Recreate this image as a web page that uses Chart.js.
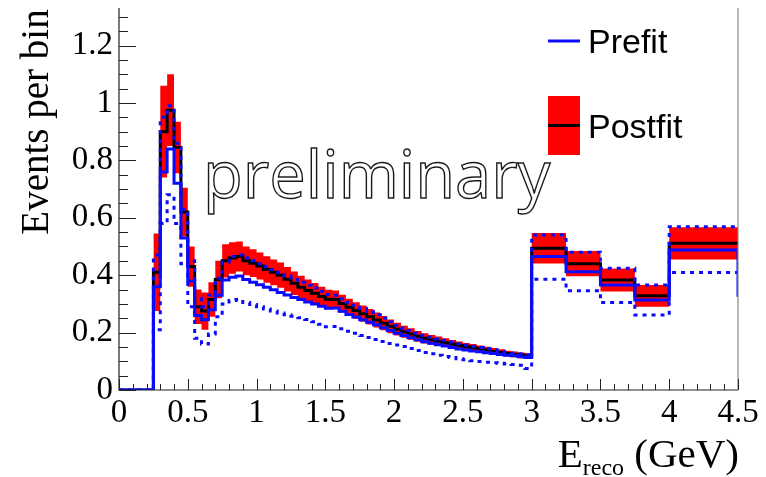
<!DOCTYPE html>
<html>
<head>
<meta charset="utf-8">
<script src="https://cdn.jsdelivr.net/npm/chart.js@4.4.1/dist/chart.umd.min.js"></script>
<style>
  html, body { margin: 0; padding: 0; background: #fff; }
  #wrap { position: relative; width: 766px; height: 477px; }
</style>
</head>
<body>
<div id="wrap"><canvas id="c" width="766" height="477"></canvas></div>
<script>
// Bin edges of the reconstructed-energy histogram (GeV)
const binEdges = [0, 0.25, 0.30, 0.35, 0.40, 0.45, 0.50, 0.55, 0.60, 0.65, 0.70,
  0.75, 0.80, 0.85, 0.90, 0.95, 1.00, 1.05, 1.10, 1.15, 1.20,
  1.25, 1.30, 1.35, 1.40, 1.45, 1.50, 1.55, 1.60, 1.65, 1.70,
  1.75, 1.80, 1.85, 1.90, 1.95, 2.00, 2.05, 2.10, 2.15, 2.20,
  2.25, 2.30, 2.35, 2.40, 2.45, 2.50, 2.55, 2.60, 2.65, 2.70,
  2.75, 2.80, 2.85, 2.90, 2.95, 3.00, 3.25, 3.50, 3.75, 4.00, 4.50];

// Prefit prediction and its +/- 1 sigma envelope (events per bin)
const prefit = [0, 0.36, 0.76, 0.84, 0.72, 0.53, 0.38, 0.26, 0.245, 0.28, 0.33,
  0.383, 0.393, 0.397, 0.385, 0.375, 0.367, 0.358, 0.349, 0.34, 0.331,
  0.322, 0.315, 0.307, 0.30, 0.292, 0.285, 0.286, 0.274, 0.263, 0.254,
  0.245, 0.236, 0.227, 0.217, 0.207, 0.198, 0.19, 0.182, 0.175, 0.168,
  0.163, 0.158, 0.153, 0.148, 0.143, 0.139, 0.136, 0.133, 0.13, 0.127,
  0.124, 0.121, 0.119, 0.116, 0.113, 0.465, 0.412, 0.366, 0.314, 0.488];
const prefitUp = [0, 0.47, 0.95, 0.99, 0.86, 0.63, 0.45, 0.32, 0.29, 0.33, 0.39,
  0.445, 0.465, 0.47, 0.46, 0.45, 0.44, 0.43, 0.42, 0.41, 0.397,
  0.385, 0.375, 0.365, 0.355, 0.344, 0.333, 0.33, 0.318, 0.306, 0.295,
  0.284, 0.273, 0.262, 0.25, 0.238, 0.226, 0.216, 0.207, 0.199, 0.191,
  0.185, 0.179, 0.173, 0.167, 0.161, 0.156, 0.152, 0.148, 0.144, 0.14,
  0.136, 0.132, 0.129, 0.126, 0.123, 0.54, 0.48, 0.424, 0.366, 0.569];
const prefitDown = [0, 0.21, 0.58, 0.68, 0.58, 0.44, 0.29, 0.18, 0.16, 0.195, 0.255,
  0.30, 0.312, 0.315, 0.305, 0.298, 0.29, 0.282, 0.275, 0.268, 0.262,
  0.257, 0.252, 0.246, 0.238, 0.229, 0.22, 0.221, 0.213, 0.205, 0.198,
  0.19, 0.183, 0.176, 0.169, 0.162, 0.157, 0.152, 0.145, 0.138, 0.131,
  0.126, 0.121, 0.117, 0.113, 0.109, 0.105, 0.102, 0.099, 0.097, 0.095,
  0.093, 0.091, 0.089, 0.086, 0.075, 0.386, 0.346, 0.305, 0.261, 0.409];
const prefitOverflow = 0.325;

// Postfit prediction and its uncertainty
const postfit = [0, 0.41, 0.90, 0.975, 0.845, 0.62, 0.43, 0.29, 0.275, 0.315, 0.385,
  0.45, 0.46, 0.465, 0.45, 0.442, 0.432, 0.42, 0.41, 0.40, 0.386,
  0.372, 0.358, 0.347, 0.337, 0.326, 0.316, 0.315, 0.301, 0.288, 0.277,
  0.266, 0.255, 0.244, 0.233, 0.222, 0.212, 0.203, 0.195, 0.187, 0.18,
  0.175, 0.17, 0.165, 0.16, 0.155, 0.151, 0.147, 0.143, 0.139, 0.135,
  0.131, 0.127, 0.124, 0.121, 0.118, 0.494, 0.44, 0.383, 0.328, 0.511];
const postfitErr = [0, 0.135, 0.16, 0.125, 0.09, 0.085, 0.07, 0.06, 0.065, 0.06, 0.065,
  0.058, 0.055, 0.052, 0.05, 0.048, 0.047, 0.046, 0.045, 0.044, 0.043,
  0.041, 0.04, 0.038, 0.036, 0.034, 0.033, 0.032, 0.031, 0.03, 0.029,
  0.028, 0.027, 0.026, 0.025, 0.024, 0.022, 0.021, 0.02, 0.019, 0.018,
  0.017, 0.016, 0.015, 0.014, 0.014, 0.013, 0.013, 0.012, 0.012, 0.011,
  0.011, 0.01, 0.01, 0.01, 0.01, 0.053, 0.044, 0.04, 0.038, 0.056];

// Axis ticks
const xTickValues = [0, 0.5, 1, 1.5, 2, 2.5, 3, 3.5, 4, 4.5];
const xTickLabels = ['0', '0.5', '1', '1.5', '2', '2.5', '3', '3.5', '4', '4.5'];
const yTickValues = [0, 0.2, 0.4, 0.6, 0.8, 1.0, 1.2];
const yTickLabels = ['0', '0.2', '0.4', '0.6', '0.8', '1', '1.2'];

const BLUE = '#0a0aff';
const RED = '#ff0000';
const SERIF = '"Liberation Serif", "Times New Roman", serif';
const SANS = '"Liberation Sans", Arial, sans-serif';

// Turn per-bin contents into a histogram outline
function histOutline(values, first) {
  const pts = [];
  for (let i = first; i < values.length; i++) {
    pts.push({ x: binEdges[i], y: values[i] });
    pts.push({ x: binEdges[i + 1], y: values[i] });
  }
  return pts;
}

const bandHigh = postfit.map((v, i) => v + postfitErr[i]);
const bandLow = postfit.map((v, i) => v - postfitErr[i]);
const prefitLine = histOutline(prefit, 0);
prefitLine.push({ x: binEdges[binEdges.length - 1], y: prefitOverflow });

const lineBase = { pointRadius: 0, tension: 0, borderJoinStyle: 'miter', borderCapStyle: 'butt', fill: false };

// Frame, inward tick marks, titles, legend and watermark
const decorations = {
  id: 'decorations',
  afterDraw(chart) {
    const ctx = chart.ctx;
    const xs = chart.scales.x, ys = chart.scales.y;
    const a = chart.chartArea;
    ctx.save();
    // frame
    ctx.strokeStyle = '#222';
    ctx.lineWidth = 1.2;
    ctx.beginPath();
    ctx.moveTo(a.left, a.top); ctx.lineTo(a.left, a.bottom); ctx.lineTo(a.right, a.bottom);
    ctx.stroke();
    ctx.strokeStyle = '#888';
    ctx.beginPath();
    ctx.moveTo(a.right, a.top); ctx.lineTo(a.right, a.bottom);
    ctx.stroke();
    // y ticks: major every 0.2, minor every 0.05
    ctx.strokeStyle = '#222';
    ctx.lineWidth = 1;
    ctx.beginPath();
    for (let k = 0; k <= 26; k++) {
      const v = k * 0.05;
      if (v > ys.max) break;
      const py = Math.round(ys.getPixelForValue(v)) + 0.5;
      const len = (k % 4 === 0) ? 17 : 9;
      ctx.moveTo(a.left, py); ctx.lineTo(a.left + len, py);
    }
    // x ticks: major every 0.5, minor every 0.1
    for (let k = 0; k <= 45; k++) {
      const px = Math.round(xs.getPixelForValue(k * 0.1)) + 0.5;
      const len = (k % 5 === 0) ? 11 : 6;
      ctx.moveTo(px, a.bottom); ctx.lineTo(px, a.bottom - len);
    }
    ctx.stroke();

    // y-axis title
    ctx.fillStyle = '#000';
    ctx.save();
    ctx.translate(48, 122);
    ctx.rotate(-Math.PI / 2);
    ctx.font = '39px ' + SERIF;
    ctx.textAlign = 'center';
    ctx.textBaseline = 'alphabetic';
    ctx.fillText('Events per bin', 0, 0);
    ctx.restore();

    // x-axis title with subscript, right aligned
    ctx.textAlign = 'left';
    ctx.textBaseline = 'alphabetic';
    const big = '41px ' + SERIF, small = '24px ' + SERIF;
    ctx.font = big;
    const wE = ctx.measureText('E').width;
    const wG = ctx.measureText(' (GeV)').width;
    ctx.font = small;
    const wR = ctx.measureText('reco').width;
    let x0 = 739 - (wE + wR + wG);
    ctx.font = big; ctx.fillText('E', x0, 467);
    ctx.font = small; ctx.fillText('reco', x0 + wE, 475);
    ctx.font = big; ctx.fillText(' (GeV)', x0 + wE + wR, 467);

    // legend
    ctx.strokeStyle = BLUE;
    ctx.lineWidth = 3;
    ctx.beginPath(); ctx.moveTo(548, 41); ctx.lineTo(580, 41); ctx.stroke();
    ctx.fillStyle = RED;
    ctx.fillRect(548, 96, 32, 59);
    ctx.strokeStyle = '#000';
    ctx.beginPath(); ctx.moveTo(548, 125.5); ctx.lineTo(580, 125.5); ctx.stroke();
    ctx.fillStyle = '#000';
    ctx.font = '34px ' + SANS;
    ctx.fillText('Prefit', 588, 53);
    ctx.fillText('Postfit', 588, 138);

    // watermark
    ctx.font = '65px "Open Sans", Lato, sans-serif';
    ctx.lineWidth = 1.4;
    ctx.strokeStyle = '#1a1a1a';
    ctx.strokeText('preliminary', 203, 198);
    ctx.restore();
  }
};

new Chart(document.getElementById('c'), {
  type: 'line',
  data: {
    datasets: [
      Object.assign({ label: 'Prefit +1σ', data: histOutline(prefitUp, 0), borderColor: BLUE, borderWidth: 3, borderDash: [4, 5] }, lineBase),
      Object.assign({ label: 'Prefit -1σ', data: histOutline(prefitDown, 0), borderColor: BLUE, borderWidth: 3, borderDash: [4, 5] }, lineBase),
      Object.assign({ label: 'Prefit', data: prefitLine, borderColor: BLUE, borderWidth: 3 }, lineBase),
      Object.assign({ label: 'Postfit', data: histOutline(postfit, 0), borderColor: '#000', borderWidth: 3 }, lineBase),
      Object.assign({}, lineBase, { label: 'Postfit high', data: histOutline(bandHigh, 1), borderWidth: 0, borderColor: RED, backgroundColor: RED, fill: '+1' }),
      Object.assign({}, lineBase, { label: 'Postfit low', data: histOutline(bandLow, 1), borderWidth: 0, borderColor: RED, backgroundColor: RED })
    ]
  },
  options: {
    responsive: false,
    animation: false,
    devicePixelRatio: 1,
    layout: { padding: { left: 0, top: 8, right: 28, bottom: 0 } },
    plugins: { legend: { display: false }, tooltip: { enabled: false } },
    scales: {
      x: {
        type: 'linear', min: 0, max: 4.5,
        grid: { display: false, drawTicks: false },
        border: { display: false },
        afterBuildTicks: s => { s.ticks = xTickValues.map(v => ({ value: v })); },
        afterFit: s => { s.height = 87; s.paddingLeft = 0; s.paddingRight = 0; },
        ticks: {
          autoSkip: false, maxRotation: 0, minRotation: 0, padding: 4, color: '#000',
          font: { family: SERIF, size: 33 },
          callback: (v, i) => xTickLabels[i]
        }
      },
      y: {
        type: 'linear', min: 0, max: 1.331,
        grid: { display: false, drawTicks: false },
        border: { display: false },
        afterBuildTicks: s => { s.ticks = yTickValues.map(v => ({ value: v })); },
        afterFit: s => { s.width = 119; s.paddingTop = 0; s.paddingBottom = 0; },
        ticks: {
          autoSkip: false, padding: 6, color: '#000',
          font: { family: SERIF, size: 33 },
          callback: (v, i) => yTickLabels[i]
        }
      }
    }
  },
  plugins: [decorations]
});
</script>
</body>
</html>
